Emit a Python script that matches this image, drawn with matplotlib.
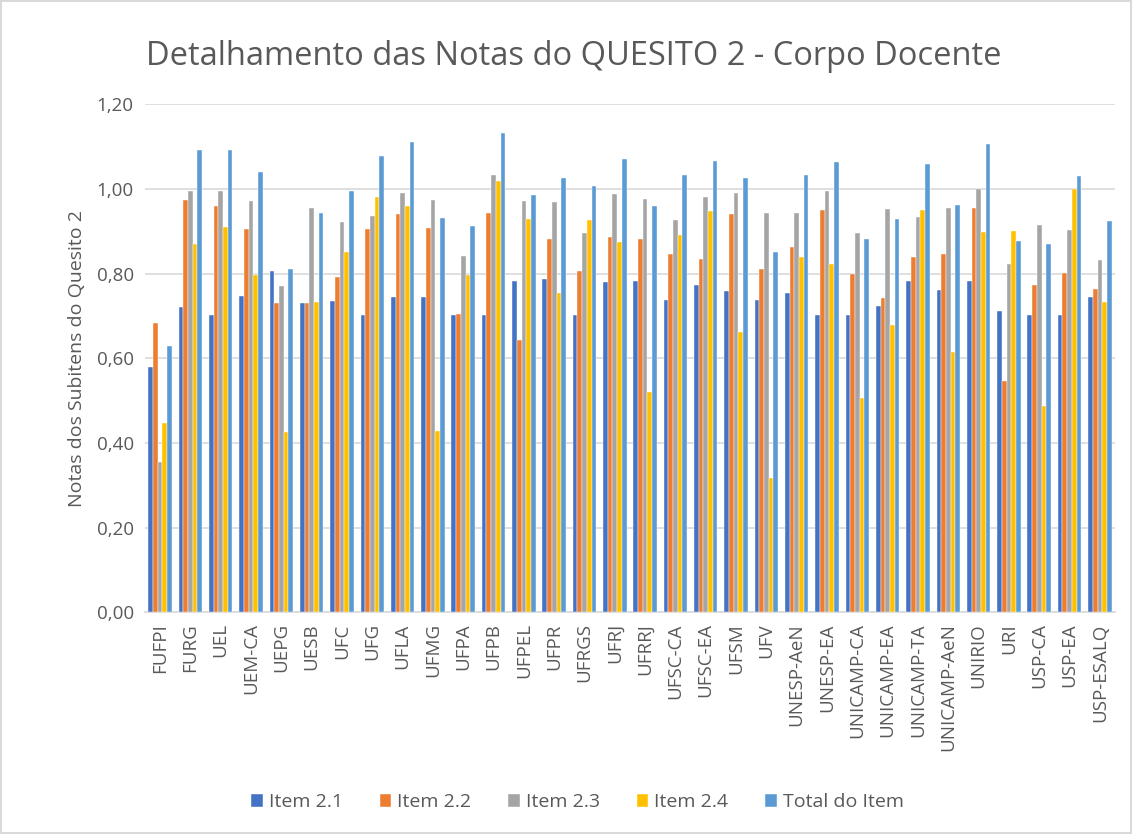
import matplotlib
matplotlib.use("Agg")
import matplotlib.pyplot as plt
import numpy as np
from matplotlib.ticker import FuncFormatter, MultipleLocator

categories = ["FUFPI", "FURG", "UEL", "UEM-CA", "UEPG", "UESB", "UFC", "UFG", "UFLA", "UFMG",
              "UFPA", "UFPB", "UFPEL", "UFPR", "UFRGS", "UFRJ", "UFRRJ", "UFSC-CA", "UFSC-EA", "UFSM",
              "UFV", "UNESP-AeN", "UNESP-EA", "UNICAMP-CA", "UNICAMP-EA", "UNICAMP-TA", "UNICAMP-AeN",
              "UNIRIO", "URI", "USP-CA", "USP-EA", "USP-ESALQ"]

item_21 = [0.579, 0.722, 0.701, 0.748, 0.805, 0.730, 0.736, 0.701, 0.745, 0.745,
           0.701, 0.701, 0.782, 0.788, 0.701, 0.779, 0.782, 0.738, 0.773, 0.758,
           0.738, 0.755, 0.701, 0.701, 0.724, 0.782, 0.762, 0.782, 0.712, 0.701, 0.701, 0.744]
item_22 = [0.682, 0.974, 0.959, 0.905, 0.730, 0.730, 0.791, 0.905, 0.941, 0.907,
           0.704, 0.944, 0.642, 0.881, 0.806, 0.886, 0.881, 0.846, 0.834, 0.941,
           0.810, 0.863, 0.950, 0.799, 0.742, 0.840, 0.846, 0.956, 0.547, 0.774, 0.802, 0.764]
item_23 = [0.355, 0.994, 0.994, 0.971, 0.770, 0.956, 0.921, 0.935, 0.990, 0.974,
           0.842, 1.032, 0.971, 0.968, 0.895, 0.987, 0.976, 0.927, 0.982, 0.990,
           0.944, 0.944, 0.994, 0.895, 0.953, 0.933, 0.956, 0.999, 0.822, 0.915, 0.904, 0.831]
item_24 = [0.448, 0.869, 0.910, 0.797, 0.425, 0.733, 0.851, 0.982, 0.959, 0.428,
           0.797, 1.018, 0.930, 0.753, 0.927, 0.874, 0.521, 0.890, 0.947, 0.662,
           0.318, 0.840, 0.822, 0.506, 0.678, 0.950, 0.614, 0.898, 0.901, 0.486, 0.999, 0.733]
total_item = [0.628, 1.092, 1.092, 1.040, 0.810, 0.944, 0.994, 1.078, 1.110, 0.932,
              0.913, 1.133, 0.985, 1.026, 1.008, 1.070, 0.959, 1.032, 1.066, 1.026,
              0.851, 1.032, 1.063, 0.881, 0.930, 1.058, 0.962, 1.107, 0.878, 0.871, 1.031, 0.924]

series_names = ["Item 2.1", "Item 2.2", "Item 2.3", "Item 2.4", "Total do Item"]
series = [item_21, item_22, item_23, item_24, total_item]
colors = ["#4472C4", "#ED7D31", "#A5A5A5", "#FFC000", "#5B9BD5"]

plt.rcParams['font.family'] = ['Open Sans', 'DejaVu Sans']
text_color = "#595959"

fig = plt.figure(figsize=(11.32, 8.34), dpi=100)
fig.patch.set_edgecolor("#D9D9D9")
fig.patch.set_linewidth(1.5)
ax = fig.add_axes([0.128, 0.266, 0.857, 0.609])

x = np.arange(len(categories))
bw = 0.155
for i, (name, vals, c) in enumerate(zip(series_names, series, colors)):
    ax.bar(x + (i - 2) * bw, vals, width=bw, color=c, label=name,
           edgecolor="white", linewidth=0.3, zorder=3)

ax.set_xlim(-0.5, len(categories) - 0.5)
ax.set_ylim(0, 1.2)
ax.yaxis.set_major_locator(MultipleLocator(0.2))
ax.yaxis.set_major_formatter(FuncFormatter(lambda v, p: f"{v:.2f}".replace(".", ",")))
ax.grid(axis="y", color="#D9D9D9", linewidth=1.2, zorder=0)
for s in ["top", "right", "left"]:
    ax.spines[s].set_visible(False)
ax.spines["bottom"].set_color("#D9D9D9")
ax.spines["bottom"].set_linewidth(1.2)
ax.tick_params(axis="both", length=0, colors=text_color, labelsize=13.5)
ax.tick_params(axis="y", pad=8)
ax.tick_params(axis="x", pad=8)
ax.set_xticks(x)
ax.set_xticklabels(categories, rotation=90)
ax.set_ylabel("Notas dos Subitens do Quesito 2", fontsize=14, color=text_color, labelpad=8)

fig.suptitle("Detalhamento das Notas do QUESITO 2 - Corpo Docente", fontsize=23.5,
             color=text_color, y=0.952, x=0.507)

handles, labels = ax.get_legend_handles_labels()
fig.legend(handles, labels, loc="center", bbox_to_anchor=(0.51, 0.038), ncol=5,
           frameon=False, fontsize=14, labelcolor=text_color, handlelength=0.6,
           handleheight=0.6, handletextpad=0.3, columnspacing=1.9)

fig.savefig("out.png", dpi=100)
